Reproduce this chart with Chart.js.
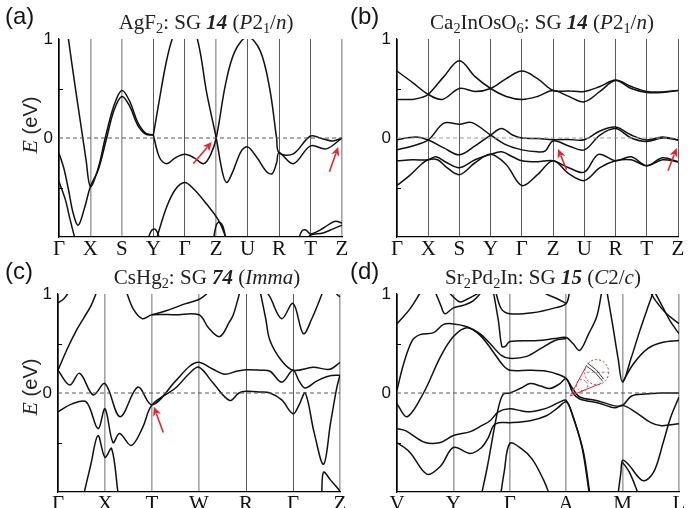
<!DOCTYPE html>
<html><head><meta charset="utf-8">
<script src="https://cdn.jsdelivr.net/npm/chart.js@4.4.1/dist/chart.umd.min.js"></script>
<style>
html,body{margin:0;padding:0;background:#fff}
#wrap{position:relative;width:695px;height:508px;overflow:hidden;background:#fff}
canvas{position:absolute;left:0;top:0}
.pl{position:absolute;font-family:"Liberation Sans",Arial,sans-serif;font-size:24px;color:#151515;line-height:1}
.tt{position:absolute;font-family:"Liberation Serif","Times New Roman",serif;font-size:21px;color:#222;white-space:nowrap;line-height:1;transform:translateX(-50%)}
.tt sub{font-size:68%;vertical-align:-0.28em;line-height:0}
.yl{position:absolute;font-family:"Liberation Sans",Arial,sans-serif;font-size:20px;color:#222;transform:translate(-50%,-50%) rotate(-90deg);white-space:nowrap;line-height:1}
.yl i{font-family:"Liberation Serif",serif;font-size:22px}
</style></head><body><div id="wrap">
<canvas id="ca" width="695" height="560"></canvas>
<canvas id="cb" width="695" height="560"></canvas>
<canvas id="cc" width="695" height="560"></canvas>
<canvas id="cd" width="695" height="560"></canvas>
<div class="pl" style="left:5px;top:4px">(a)</div>
<div class="pl" style="left:350px;top:4px">(b)</div>
<div class="pl" style="left:5px;top:259px">(c)</div>
<div class="pl" style="left:350px;top:259px">(d)</div>
<div class="tt" style="left:206px;top:12px">AgF<sub>2</sub>: SG <b><i>14</i></b> (<i>P</i>2<sub>1</sub>/<i>n</i>)</div>
<div class="tt" style="left:542px;top:12px">Ca<sub>2</sub>InOsO<sub>6</sub>: SG <b><i>14</i></b> (<i>P</i>2<sub>1</sub>/<i>n</i>)</div>
<div class="tt" style="left:207px;top:267px">CsHg<sub>2</sub>: SG <b><i>74</i></b> (<i>Imma</i>)</div>
<div class="tt" style="left:543px;top:267px">Sr<sub>2</sub>Pd<sub>2</sub>In: SG <b><i>15</i></b> (<i>C</i>2/<i>c</i>)</div>
<div class="yl" style="left:30px;top:125px"><i>E</i> (eV)</div>
<div class="yl" style="left:30px;top:387px"><i>E</i> (eV)</div>
</div>
<script>
// ---------- panel (a) AgF2 ----------
const kA = ['Γ','X','S','Y','Γ','Z','U','R','T','Z'];
const bandsA = [
 [[0.15,1.35],[0.3,1.0],[0.5,0.55],[0.72,0.08],[0.86,-0.22],[1,-0.49],[1.25,-0.3],[1.47,0.0],[1.75,0.33],[2,0.48],[2.25,0.37],[2.5,0.16],[2.75,0.05],[3,0.03]],
 [[0,-0.155],[0.15,-0.3],[0.3,-0.52],[0.45,-0.76],[0.61,-0.88],[0.8,-0.72],[1,-0.49],[1.25,-0.32],[1.5,-0.02],[1.75,0.28],[2,0.42],[2.25,0.32],[2.5,0.13],[2.75,0.04],[3,0.03]],
 [[0,-0.44],[0.2,-0.62],[0.35,-0.82],[0.51,-1.02]],
 [[3,0.03],[3.2,0.4],[3.4,0.75],[3.6,1.0],[4,1.3],[4.4,1.0],[4.7,0.45],[5,0.0],[5.2,-0.35],[5.33,-0.45],[5.5,-0.36],[5.8,-0.13],[6,-0.09],[6.3,-0.2],[6.6,-0.34],[6.78,-0.36],[6.92,-0.25],[7,-0.15],[7.45,-0.26],[8,-0.08],[8.5,-0.11],[9,0.0]],
 [[3,0.03],[3.2,-0.2],[3.42,-0.26],[3.7,-0.2],[4,-0.165],[4.3,-0.2],[4.6,-0.26],[4.82,-0.17],[5,0.0],[5.3,0.55],[5.6,0.88],[6,1.02],[6.4,0.88],[6.7,0.5],[6.92,0.0],[7,-0.15],[7.45,-0.16],[8,0.02],[8.4,-0.01],[8.7,-0.03],[9,0.0]],
 [[3.1,-1.02],[3.42,-0.7],[3.7,-0.52],[4,-0.45],[4.3,-0.52],[4.7,-0.67],[5.07,-0.83],[5.33,-1.02]],
 [[2.8,-1.05],[2.93,-0.94],[3.05,-0.92],[3.15,-0.97],[3.22,-1.05]],
 [[4.9,-1.05],[5.0,-0.88],[5.1,-0.85],[5.22,-0.9],[5.32,-1.05]],
 [[7.6,-1.05],[7.72,-0.94],[7.85,-0.93],[8,-0.97],[8.3,-0.93],[8.6,-0.87],[8.8,-0.84],[9,-0.86]],
 [[7.85,-1.05],[8,-0.98],[8.4,-0.96],[8.7,-0.92],[9,-0.88]]
];
const arrowsA = [[4.27,-0.26,4.86,-0.04],[8.6,-0.34,8.88,-0.09]];

// ---------- panel (b) Ca2InOsO6 ----------
const kB = ['Γ','X','S','Y','Γ','Z','U','R','T','Z'];
const bandsB = [
 [[0,0.676],[0.5,0.56],[1,0.44],[1.45,0.39],[2,0.5],[2.5,0.47],[3,0.5],[3.5,0.6],[4,0.676],[4.5,0.6],[5,0.48],[5.5,0.475],[6,0.47],[6.5,0.52],[7,0.585],[7.5,0.52],[8,0.47],[8.5,0.465],[9,0.48]],
 [[0,0.39],[0.5,0.39],[0.8,0.41],[1,0.44],[1.5,0.62],[2,0.78],[2.5,0.62],[3,0.5],[3.5,0.42],[4,0.39],[4.5,0.42],[5,0.48],[5.5,0.42],[6,0.365],[6.5,0.47],[7,0.58],[7.5,0.5],[8,0.46],[8.5,0.46],[9,0.48]],
 [[0,-0.017],[0.6,0.01],[1,-0.02],[1.5,-0.1],[2,-0.17],[2.5,-0.08],[3,0.03],[3.35,0.095],[3.7,0.03],[4,0.0],[4.5,-0.005],[5,-0.017],[5.5,-0.015],[6,-0.017],[6.5,0.07],[7,0.11],[7.5,0.03],[8,-0.02],[8.5,0.01],[9,-0.02]],
 [[0,-0.12],[0.5,-0.08],[1,-0.02],[1.5,0.15],[2,0.14],[2.4,0.155],[3,0.03],[3.5,-0.07],[4,-0.12],[4.5,-0.14],[4.75,-0.13],[5,-0.03],[5.5,-0.08],[6,-0.12],[6.5,0.03],[7,0.095],[7.5,0.0],[8,-0.035],[8.5,0.0],[9,-0.02]],
 [[0,-0.23],[0.5,-0.22],[1,-0.22],[1.25,-0.19],[1.6,-0.25],[2,-0.3],[2.5,-0.22],[3,-0.165],[3.35,-0.14],[3.7,-0.19],[4,-0.23],[4.5,-0.24],[5,-0.23],[5.5,-0.3],[6,-0.345],[6.45,-0.165],[7,-0.23],[7.5,-0.19],[8,-0.28],[8.5,-0.2],[9,-0.24]],
 [[0,-0.48],[0.4,-0.38],[0.8,-0.26],[1,-0.22],[1.3,-0.22],[1.6,-0.3],[2,-0.37],[2.5,-0.25],[3,-0.165],[3.5,-0.27],[4,-0.48],[4.5,-0.37],[5,-0.23],[5.5,-0.36],[6,-0.43],[6.5,-0.3],[7,-0.23],[7.5,-0.22],[8,-0.28],[8.5,-0.22],[9,-0.24]]
];
const arrowsB = [[5.43,-0.32,5.16,-0.11],[8.68,-0.33,8.96,-0.1]];

// ---------- panel (c) CsHg2 ----------
const kC = ['Γ','X','T','W','R','Γ','Z'];
const bandsC = [
 [[0,0.91],[0.12,0.95],[0.25,1.03]],
 [[0,0.23],[0.2,0.45],[0.4,0.64],[0.55,0.76],[0.7,0.88],[0.83,1.03]],
 [[1.45,1.03],[1.6,0.85],[1.8,0.75],[2,0.79],[2.5,0.79],[3,0.79],[3.2,0.66],[3.44,0.57],[3.65,0.72],[3.73,0.79],[3.87,1.02]],
 [[2,0.79],[2.3,0.83],[2.7,0.9],[3,0.945],[3.16,1.0],[3.25,1.05]],
 [[4.4,1.05],[4.51,0.97],[4.76,0.75],[5,0.905],[5.22,0.6],[5.4,0.75],[5.65,1.04]],
 [[5.85,1.05],[5.93,1.0],[6,0.97]],
 [[4.3,1.03],[4.42,0.75],[4.51,0.53],[4.75,0.33],[5,0.23],[5.43,0.26],[5.78,0.24],[6,0.31]],
 [[0,0.23],[0.25,0.08],[0.46,0.2],[0.75,-0.02],[1,0.095],[1.32,-0.24],[1.7,0.06],[2,-0.12],[2.5,0.12],[2.8,0.27],[3,0.31],[3.3,0.24],[3.55,0.19],[3.8,0.22],[4,0.235],[4.3,0.23],[4.51,0.22],[4.76,0.11],[5,0.23],[5.13,0.12],[5.26,0.05],[5.5,0.12],[5.75,0.17],[6,0.18]],
 [[0,-0.19],[0.3,-0.11],[0.6,-0.09],[0.85,-0.36],[1,-0.16],[1.17,-0.5],[1.31,-0.41],[1.56,-0.53],[1.8,-0.35],[2,-0.12],[2.5,0.05],[2.8,0.2],[3,0.26],[3.3,0.1],[3.65,-0.075],[3.85,0.0],[4,0.017],[4.3,0.01],[4.51,0.0],[4.76,-0.07],[5,-0.21],[5.13,-0.12],[5.26,0.0],[5.45,-0.4],[5.65,-0.72],[5.8,-0.3],[5.93,0.05],[6,0.18]],
 [[0.55,-1.02],[0.7,-0.72],[0.85,-0.43],[1,-0.65],[1.14,-0.56],[1.28,-1.02]],
 [[5.61,-1.02],[5.65,-0.8],[5.8,-0.88],[6,-0.99]]
];
const arrowsC = [[2.24,-0.4,2.04,-0.14]];

// ---------- panel (d) Sr2Pd2In ----------
const kD = ['V','Y','Γ','A','M','L'];
const bandsD = [
 [[0,0.70],[0.23,0.85],[0.42,1.02]],
 [[0,0.03],[0.12,0.3],[0.27,0.53],[0.41,0.59],[0.65,0.61],[0.82,0.69],[0.97,0.70],[1.24,0.67],[1.47,0.6],[1.65,0.5],[1.85,0.38],[2.0,0.35],[2.3,0.37],[2.55,0.45],[2.8,0.53],[3.0,0.55]],
 [[0,-0.11],[0.18,-0.24],[0.47,0.0],[0.77,0.365],[1.0,0.57],[1.24,0.66],[1.47,0.585],[1.7,0.42],[1.88,0.28],[2.0,0.23],[2.35,0.23],[2.65,0.22],[2.85,0.19],[3.0,0.146],[3.12,0.04],[3.24,-0.04],[3.57,-0.08],[3.86,-0.13],[4.0,-0.125],[4.16,-0.03],[4.4,-0.01],[4.7,0.0],[5.0,0.0]],
 [[0,-0.36],[0.15,-0.38],[0.5,-0.5],[0.77,-0.5],[1.0,-0.43],[1.3,-0.39],[1.5,-0.33],[1.65,-0.28],[1.8,-0.19],[2.0,-0.16],[2.2,-0.18],[2.36,-0.19],[2.55,-0.17],[2.71,-0.14],[2.89,-0.09],[3.0,-0.075],[3.12,-0.24],[3.3,-0.58],[3.42,-1.02]],
 [[0,-0.5],[0.23,-0.6],[0.53,-0.82],[0.77,-0.74],[1.0,-0.55],[1.3,-0.61],[1.5,-0.55],[1.62,-0.45],[1.71,-0.33],[1.8,-0.3],[2.0,-0.3],[2.36,-0.28],[2.65,-0.23],[2.85,-0.15],[3.0,-0.09],[3.1,-0.2],[3.28,-0.55],[3.41,-1.02]],
 [[1.5,-1.02],[1.6,-0.75],[1.74,-0.31],[1.82,-0.1],[1.89,-0.01],[2.0,0.0],[2.2,0.05],[2.36,0.095],[2.55,0.07],[2.71,0.045],[2.89,0.095],[3.0,0.146],[3.12,0.0],[3.24,-0.06],[3.57,-0.1],[3.86,-0.15],[4.0,-0.125],[4.22,-0.19],[4.5,-0.3],[4.69,-0.33],[5.0,-0.31]],
 [[1.84,-1.02],[1.9,-0.8],[2.0,-0.51],[2.2,-0.56],[2.4,-0.67],[2.6,-0.88],[2.7,-1.02]],
 [[1.71,1.02],[1.8,0.72],[1.86,0.47],[1.92,0.47],[2.0,0.52],[2.5,0.53],[2.8,0.55],[3.0,0.56],[3.12,0.5],[3.24,0.43],[3.4,0.6],[3.54,0.77],[3.63,1.02]],
 [[1.75,1.02],[1.85,0.85],[2.0,0.8],[2.4,0.81],[2.8,0.86],[3.0,0.905],[3.06,1.02]],
 [[2.5,1.05],[2.65,1.0],[2.85,0.95],[3.0,0.905]],
 [[0.68,1.02],[0.78,0.88],[0.85,0.80],[1.0,0.86],[1.2,0.89],[1.35,0.93],[1.5,1.02]],
 [[0.9,1.03],[1.0,0.97],[1.12,0.92],[1.25,0.95],[1.45,1.01]],
 [[3.72,1.03],[3.82,0.7],[3.92,0.35],[4.0,0.11],[4.15,0.35],[4.3,0.62],[4.45,0.87],[4.55,1.03]],
 [[4.0,0.11],[4.2,0.3],[4.45,0.45],[4.7,0.51],[5.0,0.53]],
 [[4.48,1.03],[4.6,0.92],[4.78,0.8],[5.0,0.70]],
 [[4.56,1.03],[4.7,0.88],[4.85,0.72],[5.0,0.6]],
 [[3.92,-1.02],[3.97,-0.8],[4.0,-0.68],[4.1,-0.72],[4.36,-0.885],[4.55,-0.8],[4.72,-0.5],[4.85,-0.25],[5.0,-0.04]],
 [[4.0,-0.7],[4.12,-0.8],[4.28,-1.02]]
];
const coneD = [3.07,-0.03,3.54,0.21];

// ---------- drawing helpers ----------
const RED = '#e8262d';
function drawArrow(ctx,x1,y1,x2,y2){
  const ang=Math.atan2(y2-y1,x2-x1), hl=9, hw=4.2;
  const bx=x2-hl*Math.cos(ang), by=y2-hl*Math.sin(ang);
  ctx.strokeStyle=RED; ctx.fillStyle=RED; ctx.lineWidth=1.6; ctx.setLineDash([]);
  ctx.beginPath(); ctx.moveTo(x1,y1); ctx.lineTo(bx+2*Math.cos(ang),by+2*Math.sin(ang)); ctx.stroke();
  ctx.beginPath(); ctx.moveTo(x2,y2);
  ctx.lineTo(bx-hw*Math.sin(ang),by+hw*Math.cos(ang));
  ctx.lineTo(bx+2.5*Math.cos(ang),by+2.5*Math.sin(ang));
  ctx.lineTo(bx+hw*Math.sin(ang),by-hw*Math.cos(ang));
  ctx.closePath(); ctx.fill();
}
function drawCone(ctx,ax,ay,cx,cy){
  const r=12, d=Math.hypot(cx-ax,cy-ay), phi=Math.atan2(ay-cy,ax-cx), beta=Math.acos(r/d);
  const t1=[cx+r*Math.cos(phi+beta),cy+r*Math.sin(phi+beta)], t2=[cx+r*Math.cos(phi-beta),cy+r*Math.sin(phi-beta)];
  ctx.lineWidth=1; ctx.strokeStyle=RED;
  ctx.setLineDash([]);
  ctx.beginPath(); ctx.moveTo(ax,ay); ctx.lineTo(t1[0],t1[1]); ctx.moveTo(ax,ay); ctx.lineTo(t2[0],t2[1]); ctx.stroke();
  ctx.setLineDash([2,2]);
  ctx.beginPath(); ctx.ellipse(cx,cy,r,r*1.05,0,0,Math.PI*2); ctx.stroke();
  const mx=ax+(cx-ax)*0.45, my=ay+(cy-ay)*0.45;
  ctx.beginPath(); ctx.ellipse(mx,my,r*0.45,r*0.5,Math.atan2(cy-ay,cx-ax),0,Math.PI*2); ctx.stroke();
  ctx.strokeStyle='#888'; ctx.setLineDash([3,2]);
  ctx.beginPath(); ctx.moveTo(cx-10,cy); ctx.lineTo(cx+11,cy); ctx.stroke();
  ctx.setLineDash([]); ctx.strokeStyle='#222'; ctx.lineWidth=0.9;
  ctx.beginPath(); ctx.moveTo(cx-9,cy-9); ctx.quadraticCurveTo(cx,cy-4,cx+7,cy+7); ctx.stroke();
  ctx.beginPath(); ctx.moveTo(cx-10,cy-6); ctx.quadraticCurveTo(cx-1,cy-1,cx+6,cy+9); ctx.stroke();
}
const overlay = {
  id:'overlay',
  afterDatasetsDraw(chart,args,opts){
    const ctx=chart.ctx, ca=chart.chartArea, x=chart.scales.x, y=chart.scales.y;
    ctx.save();
    ctx.strokeStyle='#000'; ctx.lineWidth=1; ctx.setLineDash([]);
    [-0.5,0.5].forEach(v=>{const py=Math.round(y.getPixelForValue(v))+0.5; ctx.beginPath(); ctx.moveTo(ca.left,py); ctx.lineTo(ca.left+4,py); ctx.stroke();});
    (opts.arrows||[]).forEach(a=>drawArrow(ctx,x.getPixelForValue(a[0]),y.getPixelForValue(a[1]),x.getPixelForValue(a[2]),y.getPixelForValue(a[3])));
    if(opts.cone){const c=opts.cone; drawCone(ctx,x.getPixelForValue(c[0]),y.getPixelForValue(c[1]),x.getPixelForValue(c[2]),y.getPixelForValue(c[3]));}
    ctx.restore();
  }
};
// line styles of the vertical k-point lines: g = grey/thick, d = dark/thin
function panel(id, area, labels, bands, extra, vstyle, zeroColor){
  const N=labels.length-1;
  const ds=[{data:[{x:0,y:0},{x:N,y:0}],borderColor:zeroColor,borderWidth:1,borderDash:[4,3],pointRadius:0,tension:0}];
  bands.forEach(b=>ds.push({data:b.map(p=>({x:p[0],y:p[1]})),borderColor:'#111',borderWidth:1.5,pointRadius:0,tension:0.35,fill:false}));
  new Chart(document.getElementById(id),{
    type:'line',
    data:{datasets:ds},
    options:{
      responsive:false,animation:false,devicePixelRatio:1,
      layout:{padding:{left:area.l-40,top:area.t,right:695-area.r,bottom:560-area.b-30}},
      plugins:{legend:{display:false},tooltip:{enabled:false},overlay:extra},
      scales:{
        x:{type:'linear',min:0,max:N,afterFit:s=>{s.height=30;},
           grid:{color:c=>(vstyle[c.index]==='d'?'#5a5a5a':'#a3a3a3'),lineWidth:c=>(vstyle[c.index]==='d'?1:1.6),drawTicks:false},
           border:{display:true,color:'#000',width:1.2},
           ticks:{stepSize:1,autoSkip:false,maxRotation:0,padding:0,color:'#111',font:{family:'Liberation Serif',size:21},callback:v=>labels[v]??''}},
        y:{min:-1,max:1,afterFit:s=>{s.width=40;},
           grid:{display:false,drawTicks:false},
           border:{display:true,color:'#000',width:1.2},
           ticks:{stepSize:0.5,padding:6,color:'#111',font:{family:'Liberation Sans',size:17},callback:v=>v===1?'1':(v===0?'0':'')}}
      }
    },
    plugins:[overlay]
  });
}
panel('ca',{l:59,t:39,r:342,b:237},kA,bandsA,{arrows:arrowsA},['d','g','g','d','d','g','d','d','d','g'],'#555');
panel('cb',{l:397,t:39,r:678,b:237},kB,bandsB,{arrows:arrowsB},['d','d','d','d','d','d','d','d','d','d'],'#9a9a9a');
panel('cc',{l:58,t:294,r:340,b:492},kC,bandsC,{arrows:arrowsC},['d','g','g','g','d','d','g'],'#555');
panel('cd',{l:397,t:294,r:679,b:492},kD,bandsD,{cone:coneD},['d','g','g','g','g','g'],'#555');
</script>
</body></html>
